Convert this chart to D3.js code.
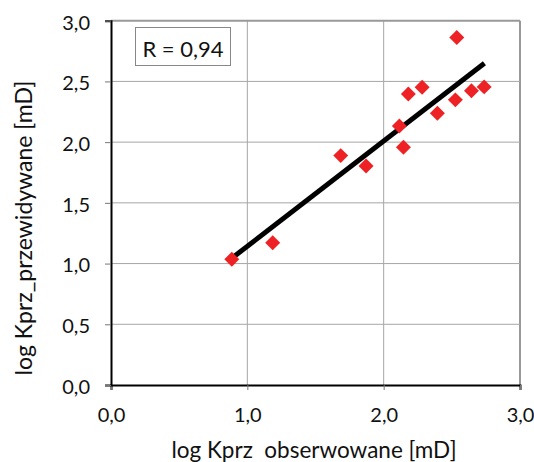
<!DOCTYPE html>
<html><head><meta charset="utf-8">
<script src="https://cdn.jsdelivr.net/npm/d3@7"></script>
<style>body{margin:0;background:#fff}svg{display:block}text{font-family:Lato,"Open Sans",sans-serif;fill:#111;white-space:pre}</style>
</head><body><svg id="c" width="534" height="462"></svg>
<script>
const observed = [0.886, 1.186, 1.685, 1.871, 2.145, 2.115, 2.181, 2.282, 2.394, 2.526, 2.536, 2.644, 2.737];
const predicted = [1.035, 1.172, 1.889, 1.804, 1.958, 2.133, 2.397, 2.452, 2.238, 2.348, 2.861, 2.424, 2.455];
const trendX = [0.886, 2.739];
const trendY = [1.044, 2.649];
const xTicks = [0, 1, 2, 3];
const yTicks = [0, 0.5, 1, 1.5, 2, 2.5, 3];
const rLabel = "R = 0,94";
const xTitle = "log Kprz  obserwowane [mD]";
const yTitle = "log Kprz_przewidywane [mD]";

const svg = d3.select("#c");
const x = d3.scaleLinear().domain([0, 3]).range([111, 520]);
const y = d3.scaleLinear().domain([0, 3]).range([385, 20.7]);
const fmt = d => d3.format(".1f")(d).replace(".", ",");

// grid
svg.append("g").selectAll("line").data(xTicks.slice(1)).join("line")
  .attr("x1", d => x(d)).attr("x2", d => x(d)).attr("y1", y(0)).attr("y2", y(3))
  .attr("stroke", d => d === 3 ? "#999" : "#a6a6a6").attr("stroke-width", d => d === 3 ? 2 : 1);
svg.append("g").selectAll("line").data(yTicks.slice(1)).join("line")
  .attr("x1", x(0)).attr("x2", x(3)).attr("y1", d => y(d)).attr("y2", d => y(d))
  .attr("stroke", d => d === 3 ? "#999" : "#a6a6a6").attr("stroke-width", d => d === 3 ? 2 : 1);

// axes
const xAxis = svg.append("g").attr("transform", `translate(0,${y(0)})`)
  .call(d3.axisBottom(x).tickValues(xTicks).tickFormat(fmt).tickSize(5).tickPadding(18));
const yAxis = svg.append("g").attr("transform", `translate(${x(0)},0)`)
  .call(d3.axisLeft(y).tickValues(yTicks).tickFormat(fmt).tickSize(6).tickPadding(15));
[xAxis, yAxis].forEach(a => {
  a.select(".domain").attr("stroke", "#000").attr("stroke-width", 2);
  a.selectAll(".tick line").attr("stroke", "#777");
  a.selectAll(".tick text").attr("font-size", 20).attr("font-family", "Lato").attr("fill", "#111");
});
yAxis.selectAll(".tick text").attr("dy", "0.42em");

// trend line
svg.append("line")
  .attr("x1", x(trendX[0])).attr("y1", y(trendY[0]))
  .attr("x2", x(trendX[1])).attr("y2", y(trendY[1]))
  .attr("stroke", "#000").attr("stroke-width", 5);

// points (diamonds)
const pts = observed.map((v, i) => [v, predicted[i]]);
svg.append("g").selectAll("path").data(pts).join("path")
  .attr("d", d3.symbol().type(d3.symbolSquare).size(112))
  .attr("transform", d => `translate(${x(d[0])},${y(d[1])}) rotate(45)`)
  .attr("fill", "#ee2224");

// R box
svg.append("rect").attr("x", 135.5).attr("y", 27.5).attr("width", 95).attr("height", 38)
  .attr("fill", "#fff").attr("stroke", "#888");
svg.append("text").attr("x", 183).attr("y", 57).attr("text-anchor", "middle")
  .attr("font-size", 22).text(rLabel);

// titles
svg.append("text").attr("x", 314).attr("y", 458).attr("text-anchor", "middle")
  .attr("font-size", 22.5).text(xTitle);
svg.append("text").attr("transform", "translate(31.5,228) rotate(-90)").attr("text-anchor", "middle")
  .attr("font-size", 23).text(yTitle);
</script></body></html>
